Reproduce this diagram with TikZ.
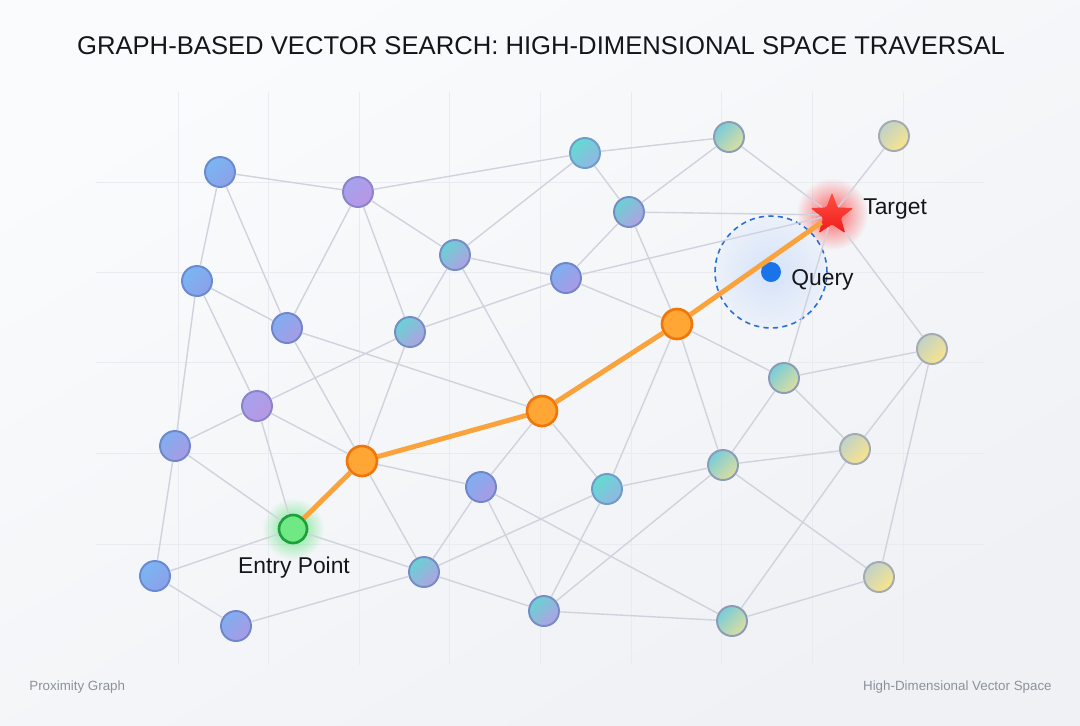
\documentclass[tikz,border=0pt]{standalone}
\usepackage{fontspec}
\setmainfont{Liberation Sans}
\usetikzlibrary{shapes.geometric,fadings}

\definecolor{bgtop}{RGB}{250,251,252}
\definecolor{bgbot}{RGB}{239,241,245}
\definecolor{gridc}{RGB}{233,235,241}
\definecolor{linkc}{RGB}{208,211,222}
\definecolor{routec}{RGB}{250,163,60}
\definecolor{hopfill}{RGB}{255,166,52}
\definecolor{hoprim}{RGB}{240,118,10}
\definecolor{epfill}{RGB}{112,232,132}
\definecolor{eprim}{RGB}{28,160,60}
\definecolor{epglow}{RGB}{70,225,105}
\definecolor{tgtop}{RGB}{255,80,66}
\definecolor{tgbot}{RGB}{238,28,28}
\definecolor{tgglow}{RGB}{255,40,40}
\definecolor{qblue}{RGB}{26,115,232}
\definecolor{qdash}{RGB}{40,112,214}
\definecolor{qin}{RGB}{212,226,248}
\definecolor{qout}{RGB}{236,241,250}
\definecolor{footc}{RGB}{140,146,156}
\definecolor{inkc}{RGB}{22,22,26}
% node tones
\definecolor{blueA}{RGB}{122,182,242}\definecolor{blueB}{RGB}{140,160,232}\definecolor{blueR}{RGB}{104,138,210}
\definecolor{bpA}{RGB}{128,174,240}\definecolor{bpB}{RGB}{170,154,228}\definecolor{bpR}{RGB}{112,134,204}
\definecolor{purA}{RGB}{166,162,236}\definecolor{purB}{RGB}{184,150,228}\definecolor{purR}{RGB}{138,132,204}
\definecolor{tpA}{RGB}{104,210,212}\definecolor{tpB}{RGB}{178,160,226}\definecolor{tpR}{RGB}{118,140,196}
\definecolor{tealA}{RGB}{98,220,210}\definecolor{tealB}{RGB}{148,180,226}\definecolor{tealR}{RGB}{110,156,200}
\definecolor{tyA}{RGB}{120,204,218}\definecolor{tyB}{RGB}{222,222,158}\definecolor{tyR}{RGB}{138,156,182}
\definecolor{yelA}{RGB}{192,210,200}\definecolor{yelB}{RGB}{250,228,138}\definecolor{yelR}{RGB}{164,170,178}

\tikzfading[name=glowfade, inner color=transparent!0, outer color=transparent!100]

\begin{document}
\begin{tikzpicture}[x=0.02cm, y=-0.02cm,
  vtx/.style={circle, minimum size=0.6cm, inner sep=0pt, line width=1.1pt},
  nblue/.style={vtx, draw=blueR, top color=blueA, bottom color=blueB, shading angle=45},
  nbp/.style={vtx, draw=bpR, top color=bpA, bottom color=bpB, shading angle=45},
  npur/.style={vtx, draw=purR, top color=purA, bottom color=purB, shading angle=45},
  ntp/.style={vtx, draw=tpR, top color=tpA, bottom color=tpB, shading angle=45},
  nteal/.style={vtx, draw=tealR, top color=tealA, bottom color=tealB, shading angle=45},
  nty/.style={vtx, draw=tyR, top color=tyA, bottom color=tyB, shading angle=45},
  nyel/.style={vtx, draw=yelR, top color=yelA, bottom color=yelB, shading angle=45},
  hop/.style={vtx, draw=hoprim, fill=hopfill, line width=1.5pt},
  link/.style={draw=linkc, line width=0.8pt},
  route/.style={draw=routec, line width=2.8pt},
  gridline/.style={draw=gridc, line width=0.55pt},
  lbl/.style={inner sep=0pt, text=inkc, font=\fontsize{13}{15}\selectfont},
  foot/.style={inner sep=0pt, text=footc, font=\fontsize{7.6}{9}\selectfont}]

\useasboundingbox (0,0) rectangle (1080,725);
\shade[top color=bgtop, bottom color=bgbot, shading angle=30] (0,0) rectangle (1080,725);

% grid
\draw[gridline] (178,92)--(178,665) (268,92)--(268,665) (359,92)--(359,665)
  (449,92)--(449,665) (540,92)--(540,665) (631,92)--(631,665)
  (721,92)--(721,665) (812,92)--(812,665) (903,92)--(903,665);
\draw[gridline] (96,182)--(984,182) (96,272)--(984,272) (96,362)--(984,362)
  (96,453)--(984,453) (96,544)--(984,544);

% glows
\fill[tgglow, path fading=glowfade, opacity=0.75] (832,214) circle (36);
\fill[epglow, path fading=glowfade, opacity=0.8] (293,529) circle (31);

% query neighbourhood
\node[circle, minimum size=2.24cm, inner sep=0pt, inner color=qin, outer color=qout,
  draw=qdash, line width=0.9pt, dash pattern=on 3pt off 2.4pt] (zone) at (771,272) {};

% vertices
\node[nblue] (a) at (220,172) {};
\node[npur]  (b) at (358,192) {};
\node[nteal] (c) at (585,153) {};
\node[nty]   (d) at (729,137) {};
\node[nyel]  (e) at (894,136) {};
\node[ntp]   (f) at (629,212) {};
\node[ntp]   (g) at (455,255) {};
\node[nbp]   (h) at (566,278) {};
\node[nblue] (i) at (197,281) {};
\node[nbp]   (j) at (287,328) {};
\node[ntp]   (k) at (410,332) {};
\node[nyel]  (l) at (932,349) {};
\node[nty]   (m) at (784,378) {};
\node[npur]  (n) at (257,406) {};
\node[nbp]   (p) at (175,446) {};
\node[nbp]   (q) at (481,487) {};
\node[nteal] (r) at (607,489) {};
\node[nty]   (s) at (723,465) {};
\node[nyel]  (t) at (855,449) {};
\node[nblue] (u) at (155,576) {};
\node[ntp]   (v) at (424,572) {};
\node[nbp]   (w) at (236,626) {};
\node[ntp]   (x) at (544,611) {};
\node[nty]   (y) at (732,621) {};
\node[nyel]  (z) at (879,577) {};

\node[hop] (hopa) at (362,461) {};
\node[hop] (hopb) at (542,411) {};
\node[hop] (hopc) at (677,324) {};
\node[vtx, minimum size=0.56cm, draw=eprim, fill=epfill, line width=1.5pt] (ep) at (293,529) {};
\node[star, star points=5, star point ratio=2.4, minimum size=0.9cm, inner sep=0pt,
  top color=tgtop, bottom color=tgbot, rounded corners=0.8pt] (tg) at (832,215) {};
\node[circle, minimum size=0.4cm, inner sep=0pt, fill=qblue] (qdot) at (771,272) {};

% proximity links
\draw[link] (a)--(b) (a)--(i) (a)--(j);
\draw[link] (b)--(c) (b)--(j) (b)--(k) (b)--(g);
\draw[link] (c)--(g) (c)--(f) (c)--(d);
\draw[link] (d)--(f) (d)--(tg) (e)--(tg);
\draw[link] (f)--(h) (f)--(tg) (f)--(hopc);
\draw[link] (g)--(k) (g)--(h) (g)--(hopb);
\draw[link] (h)--(k) (h)--(tg) (h)--(hopc);
\draw[link] (i)--(j) (i)--(p) (i)--(n);
\draw[link] (j)--(hopa) (j)--(hopb) (k)--(n) (k)--(hopa);
\draw[link] (tg)--(l) (tg)--(m);
\draw[link] (hopc)--(m) (hopc)--(s) (hopc)--(r);
\draw[link] (hopb)--(q) (hopb)--(r);
\draw[link] (hopa)--(n) (hopa)--(q) (hopa)--(v);
\draw[link] (n)--(p) (n)--(ep) (p)--(u) (p)--(ep);
\draw[link] (u)--(w) (u)--(ep) (ep)--(v) (w)--(v);
\draw[link] (v)--(q) (v)--(r) (v)--(x);
\draw[link] (q)--(x) (q)--(y) (r)--(x) (r)--(s);
\draw[link] (x)--(s) (x)--(y);
\draw[link] (s)--(m) (s)--(t) (s)--(z);
\draw[link] (m)--(l) (m)--(t) (l)--(t) (l)--(z);
\draw[link] (t)--(y) (y)--(z);

% search route
\draw[route] (ep)--(hopa) (hopa)--(hopb) (hopb)--(hopc) (hopc)--(tg);

% labels
\node[inner sep=0pt, text=inkc, font=\fontsize{14.6}{17}\selectfont] (title) at (541,46)
  {GRAPH-BASED VECTOR SEARCH: HIGH-DIMENSIONAL SPACE TRAVERSAL};
\node[lbl, anchor=west] (tglbl) at (863,209) {Target};
\node[lbl, anchor=west] (qlbl) at (791,280) {Query};
\node[lbl] (eplbl) at (294,568) {Entry Point};
\node[foot, anchor=west] (footl) at (29,687) {Proximity Graph};
\node[foot, anchor=east] (footr) at (1052,687) {High-Dimensional Vector Space};

\end{tikzpicture}
\end{document}
